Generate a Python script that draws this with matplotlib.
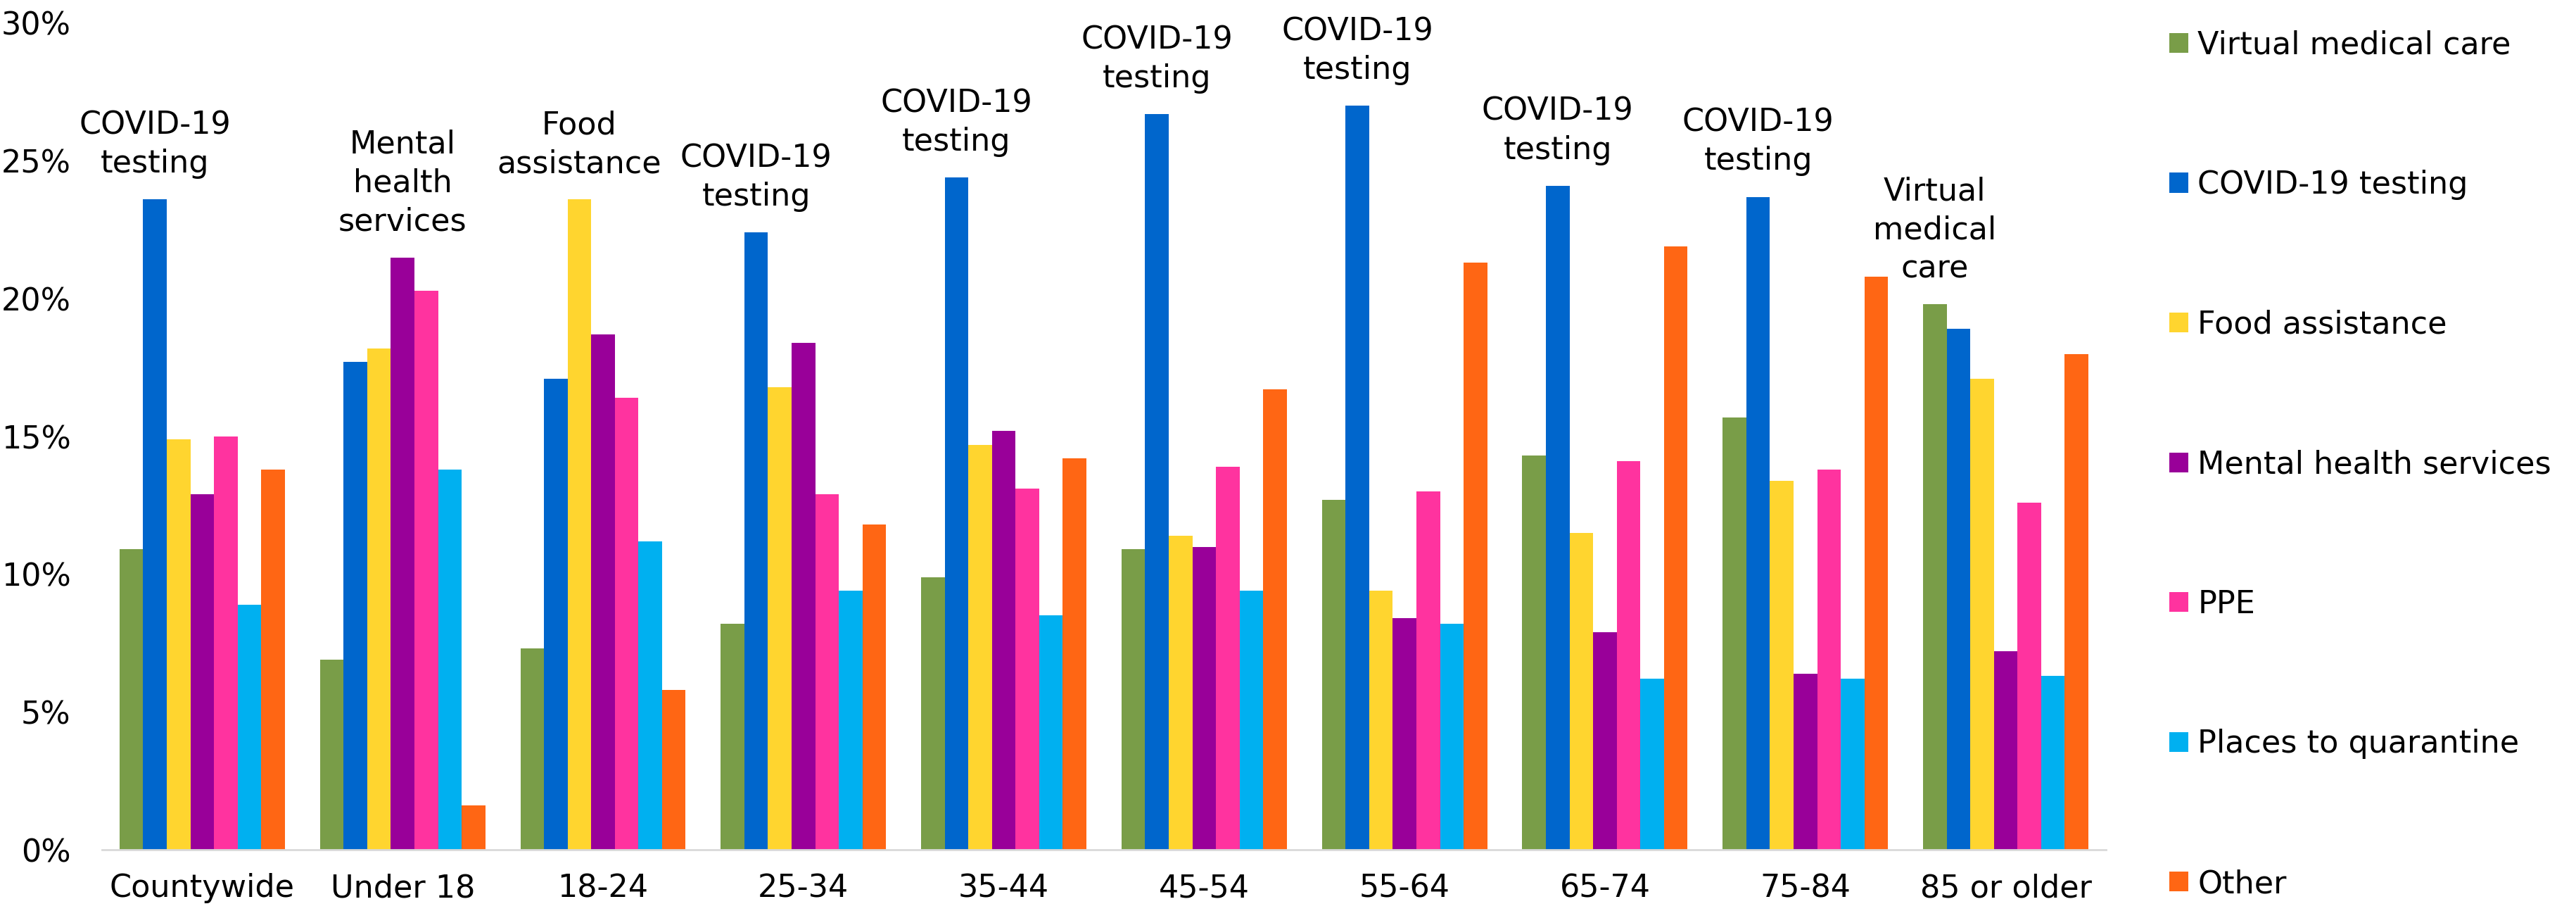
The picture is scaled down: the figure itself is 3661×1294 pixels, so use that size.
import numpy as np
from matplotlib import pyplot as plt
from matplotlib.ticker import FuncFormatter

groups = ['Countywide', 'Under 18', '18-24', '25-34', '35-44', '45-54',
          '55-64', '65-74', '75-84', '85 or older']
services = ['Virtual medical care', 'COVID-19 testing', 'Food assistance',
            'Mental health services', 'PPE', 'Places to quarantine', 'Other']
colors = ['#799D48', '#0066CC', '#FFD52F', '#990099', '#FF339F', '#00B0F0', '#FF6614']

# percent of respondents, one list per service, in group order
virtual = [10.9, 6.9, 7.3, 8.2, 9.9, 10.9, 12.7, 14.3, 15.7, 19.8]
covid = [23.6, 17.7, 17.1, 22.4, 24.4, 26.7, 27.0, 24.1, 23.7, 18.9]
food = [14.9, 18.2, 23.6, 16.8, 14.7, 11.4, 9.4, 11.5, 13.4, 17.1]
mental = [12.9, 21.5, 18.7, 18.4, 15.2, 11.0, 8.4, 7.9, 6.4, 7.2]
ppe = [15.0, 20.3, 16.4, 12.9, 13.1, 13.9, 13.0, 14.1, 13.8, 12.6]
quarantine = [8.9, 13.8, 11.2, 9.4, 8.5, 9.4, 8.2, 6.2, 6.2, 6.3]
other = [13.8, 1.6, 5.8, 11.8, 14.2, 16.7, 21.3, 21.9, 20.8, 18.0]

top_labels = ['COVID-19\ntesting', 'Mental\nhealth\nservices', 'Food\nassistance',
              'COVID-19\ntesting', 'COVID-19\ntesting', 'COVID-19\ntesting',
              'COVID-19\ntesting', 'COVID-19\ntesting', 'COVID-19\ntesting',
              'Virtual\nmedical\ncare']


def main():
    plt.rcParams['font.family'] = ['DejaVu Sans']
    fs = 32
    series = [virtual, covid, food, mental, ppe, quarantine, other]
    values = np.array(series) / 100.0

    fig = plt.figure(figsize=(36.62, 12.94), dpi=100)
    ax = fig.add_axes([0.0396, 0.0672, 0.7777, 0.9073])

    x = np.arange(len(groups))
    n = len(series)
    w = 0.825 / n
    for i, (name, vals) in enumerate(zip(services, values)):
        ax.bar(x - 0.4125 + w * (i + 0.5), vals, width=w, color=colors[i], label=name)

    for j in range(len(groups)):
        k = int(np.argmax(values[:, j]))
        ax.annotate(top_labels[j], (x[j] - 0.4125 + w * (k + 0.5), values[k, j]),
                    xytext=(0, 21), textcoords='offset points', ha='center',
                    va='bottom', fontsize=fs, linespacing=1.35)

    ax.set_xlim(-0.5, len(groups) - 0.5)
    ax.set_ylim(0, 0.30)
    ax.set_yticks(np.arange(0, 0.31, 0.05))
    ax.yaxis.set_major_formatter(FuncFormatter(lambda v, p: '%d%%' % round(v * 100)))
    ax.set_xticks(x)
    ax.set_xticklabels(groups)
    ax.tick_params(axis='both', length=0, labelsize=fs)
    ax.tick_params(axis='x', pad=24)
    ax.tick_params(axis='y', pad=32)
    for s in ['top', 'right', 'left']:
        ax.spines[s].set_visible(False)
    ax.spines['bottom'].set_color('#d9d9d9')
    ax.spines['bottom'].set_linewidth(2)

    fig.legend(loc='upper left', bbox_to_anchor=(0.842, 0.967), frameon=False,
               fontsize=fs, handlelength=0.6, handleheight=0.6, handletextpad=0.3,
               labelspacing=3.5, borderpad=0, borderaxespad=0)

    fig.savefig('out.png', dpi=100)


if __name__ == '__main__':
    main()
